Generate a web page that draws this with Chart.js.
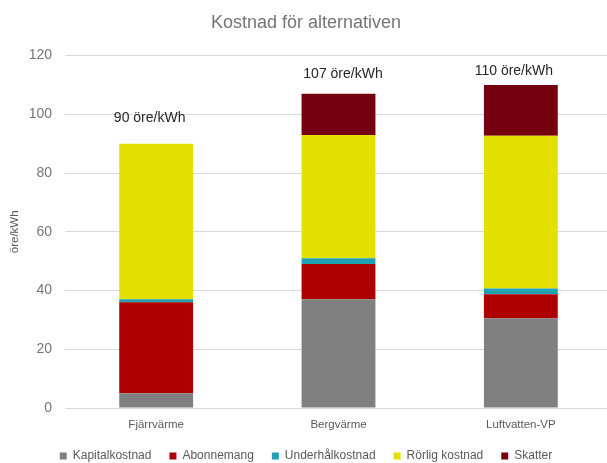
<!DOCTYPE html>
<html>
<head>
<meta charset="utf-8">
<script src="https://cdn.jsdelivr.net/npm/chart.js@4/dist/chart.umd.min.js"></script>
<style>
  html, body { margin: 0; padding: 0; background: #fff; overflow: hidden; }
</style>
</head>
<body>
<canvas id="chart" width="612" height="463"></canvas>
<script>
const categories = ["Fjärrvärme", "Bergvärme", "Luftvatten-VP"]
const kapitalkostnad = [5, 37, 30.6]
const abonnemang = [31, 12, 8.1]
const underhallkostnad = [1, 2, 2]
const rorligKostnad = [53, 42, 52]
const skatter = [0, 14, 17.3]
const totalLabels = ["90 öre/kWh", "107 öre/kWh", "110 öre/kWh"]
const yTicks = [0, 20, 40, 60, 80, 100, 120]

const FONT = '"Liberation Sans", Arial, sans-serif'
const series = [kapitalkostnad, abonnemang, underhallkostnad, rorligKostnad, skatter]

// text above each stacked bar
const totalLabelPlugin = {
    id: "totalLabels",
    afterDatasetsDraw(chart, args, opts) {
        const ctx = chart.ctx
        const x = chart.scales.x
        const y = chart.scales.y
        ctx.save()
        ctx.font = "14px " + FONT
        ctx.fillStyle = "#262626"
        ctx.textAlign = "center"
        ctx.textBaseline = "middle"
        categories.forEach((c, i) => {
            const total = series.reduce((s, arr) => s + arr[i], 0)
            ctx.fillText(totalLabels[i], x.getPixelForValue(i) + opts.dx[i], y.getPixelForValue(total) - opts.dy[i])
        })
        ctx.restore()
    }
}

const chart1 = new Chart("chart", {
    type: "bar",
    data: {
        labels: categories,
        datasets: [
            { label: "Kapitalkostnad", data: kapitalkostnad, backgroundColor: "#808080" },
            { label: "Abonnemang", data: abonnemang, backgroundColor: "#ae0000" },
            { label: "Underhålkostnad", data: underhallkostnad, backgroundColor: "#21a0b2" },
            { label: "Rörlig kostnad", data: rorligKostnad, backgroundColor: "#e4e000" },
            { label: "Skatter", data: skatter, backgroundColor: "#740010" }
        ]
    },
    options: {
        responsive: false,
        animation: false,
        devicePixelRatio: 1,
        datasets: { bar: { barPercentage: 0.405, categoryPercentage: 1, borderWidth: 0 } },
        layout: { padding: { left: 0, right: 0, top: 0, bottom: -9 } },
        plugins: {
            title: {
                display: true,
                text: "Kostnad för alternativen",
                color: "#757575",
                font: { family: FONT, size: 18, weight: "normal" },
                padding: { top: 12, bottom: 22 }
            },
            legend: {
                position: "bottom",
                labels: {
                    boxWidth: 7,
                    boxHeight: 7,
                    padding: 18,
                    color: "#595959",
                    font: { family: FONT, size: 12 }
                }
            },
            tooltip: { enabled: false },
            totalLabels: { dx: [-6.5, 4.5, -7], dy: [26, 20, 14] }
        },
        scales: {
            x: {
                stacked: true,
                grid: { display: false, drawTicks: false },
                border: { display: false },
                ticks: { color: "#595959", font: { family: FONT, size: 11.5 }, padding: 10, autoSkip: false, maxRotation: 0 },
                afterFit(scale) { scale.height = 24 }
            },
            y: {
                stacked: true,
                min: 0,
                max: 120,
                afterBuildTicks(scale) { scale.ticks = yTicks.map(v => ({ value: v })) },
                grid: { color: "#d9d9d9", drawTicks: false },
                border: { display: false },
                ticks: { color: "#767676", font: { family: FONT, size: 14 }, padding: 13 },
                title: {
                    display: true,
                    text: "öre/kWh",
                    color: "#595959",
                    font: { family: FONT, size: 11.5 },
                    padding: { top: 8, bottom: 0 }
                },
                afterFit(scale) { scale.width = 65 }
            }
        }
    },
    plugins: [totalLabelPlugin]
})
</script>
</body>
</html>
